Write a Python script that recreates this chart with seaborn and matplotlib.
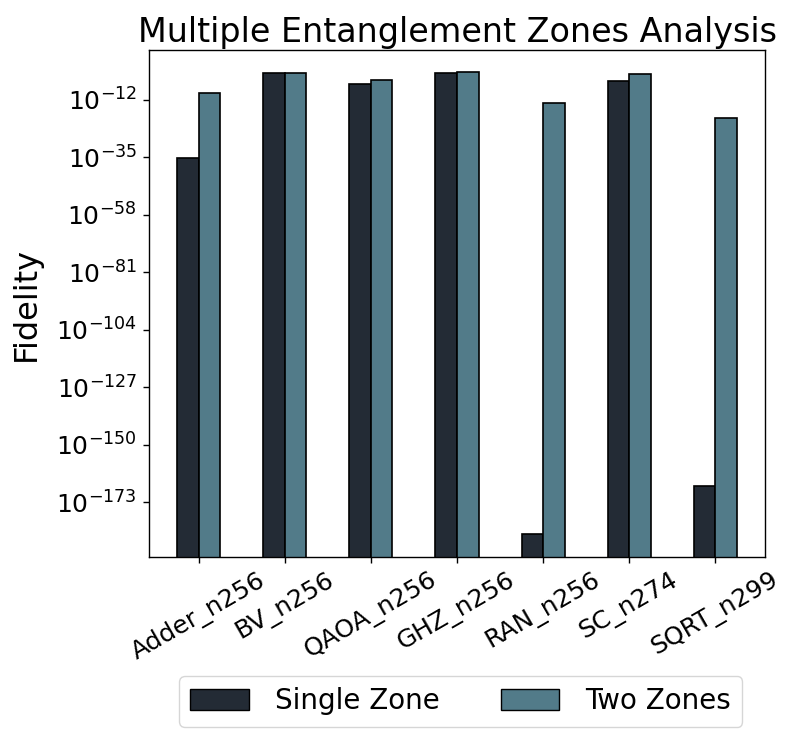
import numpy as np
import pandas as pd
import matplotlib
matplotlib.use("Agg")
import matplotlib.pyplot as plt
import seaborn as sns
from matplotlib.ticker import FixedLocator, NullLocator
from matplotlib.patches import Patch

categories = ["Adder_n256", "BV_n256", "QAOA_n256", "GHZ_n256", "RAN_n256", "SC_n274", "SQRT_n299"]
series_names = ["Single Zone", "Two Zones"]
# log10 of fidelity values
single_zone_log10 = [-35.2, -1.5, -5.8, -1.3, -185.8, -4.5, -166.6]
two_zones_log10 = [-9.4, -1.2, -4.3, -1.0, -13.2, -1.7, -19.2]
ytick_exponents = [-12, -35, -58, -81, -104, -127, -150, -173]

colors = ["#232b35", "#527b89"]

rows = []
for c, s, t in zip(categories, single_zone_log10, two_zones_log10):
    rows.append({"Circuit": c, "Config": series_names[0], "Fidelity": 10.0 ** s})
    rows.append({"Circuit": c, "Config": series_names[1], "Fidelity": 10.0 ** t})
df = pd.DataFrame(rows)

sns.set_style("white")
plt.rcParams['font.family'] = ['DejaVu Sans']
for k in ["text.color", "axes.labelcolor", "xtick.color", "ytick.color"]:
    plt.rcParams[k] = "black"

fig = plt.figure(figsize=(7.97, 7.43), dpi=100)
ax = fig.add_axes([149/797, 1 - 557/743, (765 - 149)/797, (557 - 50)/743])

sns.barplot(data=df, x="Circuit", y="Fidelity", hue="Config", palette=colors,
            width=0.5, edgecolor="black", linewidth=1.2, ax=ax,
            legend=False, order=categories, hue_order=series_names, saturation=1)
ax.set_yscale("log")

ax.set_ylim(10.0 ** -195, 10.0 ** 7.9)
ax.set_xlim(-0.58, 6.58)
ax.yaxis.set_major_locator(FixedLocator([10.0 ** e for e in ytick_exponents]))
ax.yaxis.set_minor_locator(NullLocator())

ax.set_title("Multiple Entanglement Zones Analysis", fontsize=24)
ax.set_ylabel("Fidelity", fontsize=23, labelpad=10)
ax.set_xlabel("")
ax.tick_params(axis="y", labelsize=18, length=4.5, left=True, width=1, pad=4)
ax.tick_params(axis="x", labelsize=18, length=4.5, bottom=True, width=1)
plt.setp(ax.get_xticklabels(), rotation=30, ha="center")
for sp in ax.spines.values():
    sp.set_color("black")
    sp.set_linewidth(1.0)

handles = [Patch(facecolor=colors[0], edgecolor="black", label=series_names[0]),
           Patch(facecolor=colors[1], edgecolor="black", label=series_names[1])]
ax.legend(handles=handles, loc="center", bbox_to_anchor=(0.506, -0.285), ncol=2,
          fontsize=20, handlelength=2.1, handleheight=0.8, handletextpad=0.95,
          columnspacing=2.2, frameon=True)

fig.savefig("out.png", dpi=100)
